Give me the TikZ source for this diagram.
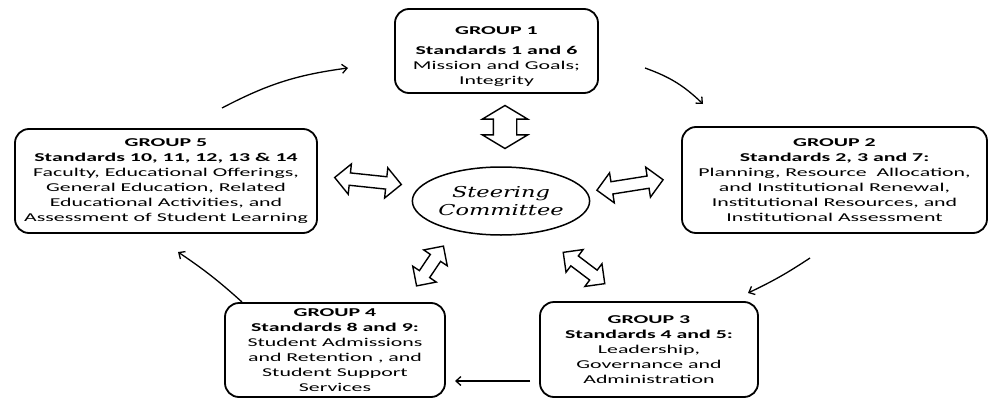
\documentclass[tikz,border=0pt]{standalone}
\usepackage{fontspec}
\setmainfont{Carlito}[FakeStretch=1.82]
\newfontfamily\steerfont{DejaVu Serif}[FakeStretch=1.5]
\usetikzlibrary{shapes.geometric,shapes.arrows,arrows.meta}
\begin{document}
\begin{tikzpicture}[x=1pt,y=1pt,
  groupbox/.style={draw, line width=1.8pt, rounded corners=14pt, align=center,
    font=\fontsize{12}{15}\selectfont, inner sep=0pt},
  grouptext/.style={align=center, font=\fontsize{12}{15}\selectfont, inner sep=0pt},
  blockarrow/.style={double arrow, draw, line width=1.4pt, inner xsep=0pt,
    double arrow tip angle=90},
  flow/.style={line width=1.3pt, -{Straight Barb[length=5pt,width=9pt]}}]
\useasboundingbox (0,0) rectangle (989,-399);

% group boxes
\node[groupbox, minimum width=203, minimum height=84] (g1) at (496.5,-51) {};
\node[grouptext] (g1t) at (496.5,-57)
  {\textbf{GROUP 1}\\[5pt]\textbf{Standards 1 and 6}\\Mission and Goals;\\Integrity};
\node[groupbox, minimum width=305, minimum height=106] (g2) at (834.5,-180)
  {\textbf{GROUP 2}\\\textbf{Standards 2, 3 and 7:}\\Planning, Resource\ \ Allocation,\\and Institutional Renewal,\\Institutional Resources, and\\Institutional Assessment};
\node[groupbox, minimum width=218, minimum height=95] (g3) at (649,-349.5)
  {\textbf{GROUP 3}\\\textbf{Standards 4 and 5:}\\Leadership,\\Governance and\\Administration};
\node[groupbox, minimum width=220, minimum height=94] (g4) at (335,-350)
  {\textbf{GROUP 4}\\\textbf{Standards 8 and 9:}\\Student Admissions\\and Retention , and\\Student Support\\Services};
\node[groupbox, minimum width=302, minimum height=104] (g5) at (166,-181)
  {\textbf{GROUP 5}\\\textbf{Standards 10, 11, 12, 13 \& 14}\\Faculty, Educational Offerings,\\General Education, Related\\Educational Activities, and\\Assessment of Student Learning};

% steering committee
\node[ellipse, draw, line width=1.5pt, minimum width=172, minimum height=68, inner sep=0pt,
  align=center, font=\steerfont\itshape\fontsize{15}{18}\selectfont] (sc) at (501,-201)
  {Steering\\Committee};

% block double arrows
\node[blockarrow, minimum height=43, inner ysep=11pt, double arrow head extend=11,
  double arrow tip angle=118, rotate=90] (da1) at (505,-127) {};
\node[blockarrow, minimum height=67, inner ysep=5.5pt, double arrow head extend=9,
  rotate=-6] (da5) at (368,-181) {};
\node[blockarrow, minimum height=67, inner ysep=5.5pt, double arrow head extend=9,
  rotate=9] (da2) at (630,-185) {};
\node[blockarrow, minimum height=48, inner ysep=5.5pt, double arrow head extend=8,
  rotate=56] (da4) at (430,-266) {};
\node[blockarrow, minimum height=52, inner ysep=5.5pt, double arrow head extend=8,
  rotate=-37] (da3) at (584,-268) {};

% flow arrows
\coordinate (a5s) at (222,-108);
\coordinate (a5e) at (348,-68);
\coordinate (a1s) at (645,-68);
\coordinate (a1e) at (703,-104);
\coordinate (a2s) at (810,-258);
\coordinate (a2e) at (748,-293);
\coordinate (a3s) at (530,-381);
\coordinate (a3e) at (455,-381);
\coordinate (a4s) at (242,-302);
\coordinate (a4e) at (178,-252);
\draw[flow] (a5s) to[bend left=10] (a5e);
\draw[flow] (a1s) to[bend left=12] (a1e);
\draw[flow] (a2s) to[bend left=4] (a2e);
\draw[flow] (a3s) -- (a3e);
\draw[flow] (a4s) to[bend right=4] (a4e);
\end{tikzpicture}
\end{document}
